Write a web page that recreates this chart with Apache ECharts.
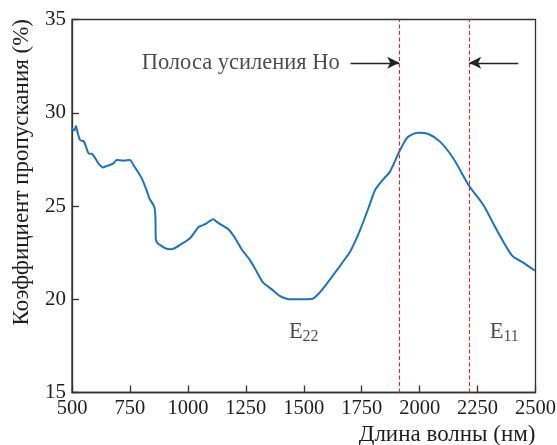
<!DOCTYPE html>
<html>
<head>
<meta charset="utf-8">
<script src="https://cdn.jsdelivr.net/npm/echarts@6/dist/echarts.min.js"></script>
<style>
html,body{margin:0;padding:0;background:#fff;}
#chart{width:557px;height:445px;}
</style>
</head>
<body>
<div id="chart"></div>
<script>
// Wavelength (nm) and transmittance (%)
const wavelength = [500, 510, 517, 523, 535, 552, 571, 589, 614, 635, 650, 664, 680, 693, 721, 750, 765, 779, 801, 820, 834, 855, 860, 862, 870, 880, 900, 923, 945, 966, 1009, 1045, 1060, 1081, 1095, 1110, 1125, 1139, 1175, 1204, 1232, 1268, 1297, 1325, 1362, 1398, 1426, 1450, 1484, 1534, 1563, 1606, 1649, 1685, 1700, 1720, 1743, 1779, 1808, 1843, 1870, 1886, 1912, 1944, 1970, 1994, 2038, 2088, 2145, 2214, 2275, 2333, 2397, 2447, 2498];
const transmittance = [29.17, 29.05, 29.29, 29.0, 28.54, 28.45, 27.83, 27.77, 27.29, 27.07, 27.15, 27.2, 27.3, 27.47, 27.43, 27.47, 27.2, 26.93, 26.48, 25.9, 25.41, 24.96, 24.4, 23.18, 23.0, 22.91, 22.75, 22.68, 22.75, 22.91, 23.27, 23.86, 23.95, 24.07, 24.2, 24.29, 24.15, 24.03, 23.75, 23.27, 22.68, 22.1, 21.48, 20.89, 20.53, 20.17, 20.03, 20.0, 20.0, 20.01, 20.28, 20.94, 21.66, 22.28, 22.55, 23.05, 23.71, 24.88, 25.86, 26.43, 26.8, 27.2, 27.91, 28.63, 28.85, 28.93, 28.86, 28.45, 27.56, 26.07, 25.05, 23.71, 22.37, 21.96, 21.53];

const xTicks = [500, 750, 1000, 1250, 1500, 1750, 2000, 2250, 2500];
const yTicks = [15, 20, 25, 30, 35];

// Annotation data
const gainBand = [1912, 2214];          // dashed boundaries of the Ho gain band (nm)
const arrowY = 32.68;
const leftArrow = [1702, 1912];
const rightArrow = [2426, 2214];
const bandLabel = 'Полоса усиления Ho';
const bandLabelPos = [1660, 32.68];
const peakLabels = [
  {name: 'E', sub: '22', x: 1500, y: 18.25},
  {name: 'E', sub: '11', x: 2365, y: 18.25}
];

const serif = "'Liberation Serif','DejaVu Serif','Times New Roman',serif";
const chart = echarts.init(document.getElementById('chart'));

chart.setOption({
  animation: false,
  backgroundColor: '#fff',
  grid: {left: 72, right: 21.5, top: 19.5, bottom: 52.5, show: true, borderColor: '#333', borderWidth: 1.3, backgroundColor: 'transparent', containLabel: false, outerBoundsMode: 'none'},
  xAxis: {
    type: 'value', min: xTicks[0], max: xTicks[xTicks.length - 1], interval: 250,
    name: 'Длина волны (нм)', nameLocation: 'end', nameGap: 0,
    nameTextStyle: {fontFamily: serif, fontSize: 23, color: '#1e1e1e', align: 'right', verticalAlign: 'top', padding: [31, 0, 0, 0]},
    axisLine: {lineStyle: {color: '#333', width: 1.3}},
    axisTick: {inside: true, length: 7, lineStyle: {color: '#333', width: 1.3}},
    axisLabel: {fontFamily: serif, fontSize: 20.5, color: '#1e1e1e', margin: 6, showMinLabel: true, showMaxLabel: true, formatter: v => String(v)},
    splitLine: {show: false}
  },
  yAxis: {
    type: 'value', min: yTicks[0], max: yTicks[yTicks.length - 1], interval: 5,
    axisLine: {show: true, lineStyle: {color: '#333', width: 1.3}},
    axisTick: {show: true, inside: true, length: 7, lineStyle: {color: '#333', width: 1.3}},
    axisLabel: {fontFamily: serif, fontSize: 21, color: '#1e1e1e', margin: 6, formatter: v => String(v)},
    splitLine: {show: false}
  },
  graphic: [{
    type: 'text', left: 10, top: 19, rotation: Math.PI / 2,
    style: {text: 'Коэффициент пропускания (%)', font: "23px " + serif, fill: '#1e1e1e'}
  }],
  series: [
    {
      type: 'line', data: wavelength.map((w, i) => [w, transmittance[i]]),
      showSymbol: false, smooth: 0.25,
      lineStyle: {color: '#1b74bf', width: 2},
      z: 3
    },
    {
      type: 'line', data: [], z: 2,
      markLine: {
        silent: true, symbol: 'none',
        lineStyle: {color: '#e3242b', type: [4, 2.5], width: 1.1},
        label: {show: false},
        data: gainBand.map(v => ({xAxis: v}))
      }
    },
    {
      type: 'line', data: [], z: 4,
      markLine: {
        silent: true, symbol: ['none', 'arrow'], symbolSize: [9, 12],
        lineStyle: {color: '#222', type: 'solid', width: 1.4},
        label: {show: false},
        data: [
          [{coord: [leftArrow[0], arrowY]}, {coord: [leftArrow[1], arrowY]}],
          [{coord: [rightArrow[0], arrowY]}, {coord: [rightArrow[1], arrowY]}]
        ]
      }
    },
    {
      type: 'scatter', symbolSize: 0, z: 5,
      data: [bandLabelPos].concat(peakLabels.map(p => [p.x, p.y])),
      label: {
        show: true,
        formatter: function (p) {
          if (p.dataIndex === 0) return '{t|' + bandLabel + '}';
          const pk = peakLabels[p.dataIndex - 1];
          return '{t|' + pk.name + '}{s|' + pk.sub + '}';
        },
        position: 'inside',
        rich: {
          t: {fontFamily: serif, fontSize: 22.5, color: '#1e1e1e'},
          s: {fontFamily: serif, fontSize: 16, color: '#1e1e1e', verticalAlign: 'bottom', padding: [9, 0, 0, 0]}
        }
      },
      labelLayout: function (params) {
        if (params.dataIndex === 0) {
          return {align: 'right', verticalAlign: 'middle', x: params.rect.x - 1};
        }
        return {};
      }
    }
  ]
});
</script>
</body>
</html>
